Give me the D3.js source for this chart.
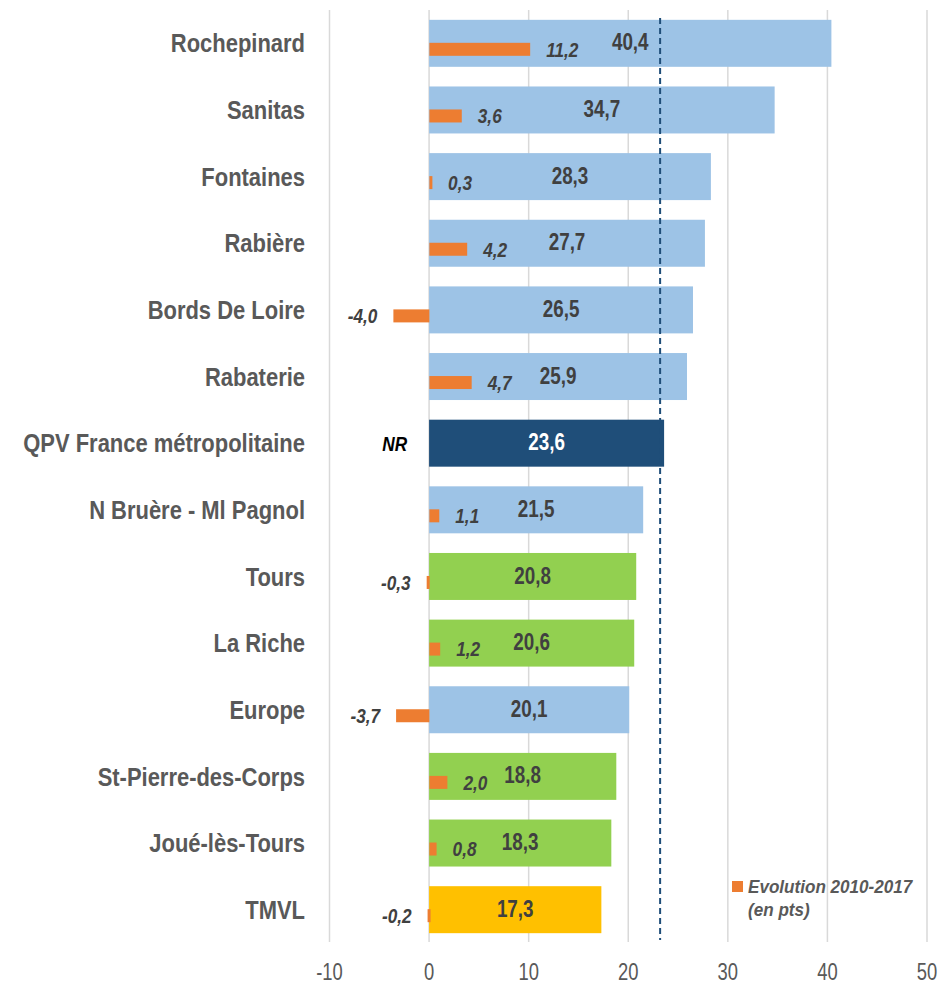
<!DOCTYPE html>
<html>
<head>
<meta charset="utf-8">
<script src="https://cdn.jsdelivr.net/npm/d3@7"></script>
<style>
  body { margin: 0; background: #fff; }
  svg text { font-family: "Liberation Sans", Arial, sans-serif; }
  .grid line { stroke: #d9d9d9; stroke-width: 1.5px; }
  .cat { font-size: 26px; font-weight: bold; fill: #595959; }
  .tick-label { font-size: 23px; fill: #595959; }
  .value { font-size: 23px; font-weight: bold; fill: #404040; }
  .evo { font-size: 21px; font-weight: bold; font-style: italic; fill: #404040; }
  .legend { font-size: 19px; font-weight: bold; font-style: italic; fill: #595959; }
</style>
</head>
<body>
<div id="wrapper"></div>
<script>
async function drawChart() {

  // 1. Data

  const categories = [
    "Rochepinard", "Sanitas", "Fontaines", "Rabière", "Bords De Loire",
    "Rabaterie", "QPV France métropolitaine", "N Bruère - Ml Pagnol",
    "Tours", "La Riche", "Europe", "St-Pierre-des-Corps", "Joué-lès-Tours", "TMVL"
  ]
  const rates = [40.4, 34.7, 28.3, 27.7, 26.5, 25.9, 23.6, 21.5, 20.8, 20.6, 20.1, 18.8, 18.3, 17.3]
  const evolutions = [11.2, 3.6, 0.3, 4.2, -4.0, 4.7, null, 1.1, -0.3, 1.2, -3.7, 2.0, 0.8, -0.2]
  const groups = ["qpv", "qpv", "qpv", "qpv", "qpv", "qpv", "france", "qpv",
                  "commune", "commune", "qpv", "commune", "commune", "tmvl"]
  const xTicks = [-10, 0, 10, 20, 30, 40, 50]
  const referenceValue = 23.2
  const legendLabel = ["Evolution 2010-2017", "(en pts)"]

  const colorByGroup = {
    qpv: "#9dc3e6",
    france: "#1f4e79",
    commune: "#92d050",
    tmvl: "#ffc000",
  }
  const evoColor = "#ed7d31"
  const fmt = v => d3.format(".1f")(v).replace(".", ",").replace("\u2212", "-")

  const rows = categories.map((name, i) => ({
    name, rate: rates[i], evo: evolutions[i], group: groups[i]
  }))

  // narrow look: squeeze text horizontally around its anchor
  const place = (sel, x, y, s) => sel
      .attr("transform", (d, i) => `translate(${x(d, i)},${y(d, i)}) scale(${s},1)`)

  // 2. Dimensions

  const dimensions = {
    width: 939,
    height: 984,
    margin: { top: 10, right: 12, bottom: 42, left: 329.5 },
  }

  // 3. Canvas

  const svg = d3.select("#wrapper").append("svg")
      .attr("width", dimensions.width)
      .attr("height", dimensions.height)

  const bounds = svg.append("g")
      .attr("transform", `translate(${dimensions.margin.left},${dimensions.margin.top})`)

  // 4. Scales

  const xScale = d3.scaleLinear()
      .domain([-10, 50])
      .range([0, 597.5])

  // secondary axis of the evolution series (slightly tighter than the main one)
  const evoScale = d3.scaleLinear()
      .domain([-11.1, 55.3])
      .range([0, 597.5])

  const yScale = d3.scaleBand()
      .domain(categories)
      .range([0, 933])
      .paddingInner(0.295)
      .paddingOuter(0.1475)

  // 5. Gridlines + axis labels

  bounds.append("g").attr("class", "grid")
    .selectAll("line")
    .data(xTicks)
    .join("line")
      .attr("x1", d => xScale(d))
      .attr("x2", d => xScale(d))
      .attr("y1", 0)
      .attr("y2", 932)

  bounds.append("g")
    .selectAll("text")
    .data(xTicks)
    .join("text")
      .attr("class", "tick-label")
      .attr("text-anchor", "middle")
      .call(place, d => xScale(d), () => 970, 0.8)
      .text(d => d)

  // 6. Bars

  const bh = yScale.bandwidth()
  const mid = d => yScale(d.name) + bh / 2

  bounds.selectAll(".rate-bar")
    .data(rows)
    .join("rect")
      .attr("class", "rate-bar")
      .attr("x", xScale(0))
      .attr("y", d => yScale(d.name))
      .attr("width", d => xScale(d.rate) - xScale(0))
      .attr("height", bh)
      .attr("fill", d => colorByGroup[d.group])

  const evoH = 13
  const evoMid = d => mid(d) + 6

  bounds.selectAll(".evo-bar")
    .data(rows.filter(d => d.evo !== null))
    .join("rect")
      .attr("class", "evo-bar")
      .attr("x", d => d.evo < 0 ? evoScale(d.evo) : evoScale(0))
      .attr("y", d => evoMid(d) - evoH / 2)
      .attr("width", d => Math.max(3, Math.abs(evoScale(d.evo) - evoScale(0))))
      .attr("height", evoH)
      .attr("fill", evoColor)

  // reference line
  bounds.append("line")
      .attr("x1", xScale(referenceValue))
      .attr("x2", xScale(referenceValue))
      .attr("y1", 8)
      .attr("y2", 930)
      .attr("stroke", "#1f4e79")
      .attr("stroke-width", 2)
      .attr("stroke-dasharray", "6 4")

  // 7. Labels

  bounds.selectAll(".value")
    .data(rows)
    .join("text")
      .attr("class", "value")
      .attr("dy", "0.35em")
      .attr("text-anchor", "middle")
      .call(place, d => (xScale(0) + xScale(d.rate)) / 2, d => mid(d) - 1, 0.82)
      .style("fill", d => d.group == "france" ? "#fff" : null)
      .text(d => fmt(d.rate))

  bounds.selectAll(".evo")
    .data(rows)
    .join("text")
      .attr("class", "evo")
      .attr("dy", "0.35em")
      .attr("text-anchor", d => d.evo > 0 ? "start" : "end")
      .call(place,
        d => d.evo === null ? xScale(0) - 22
          : d.evo > 0 ? evoScale(d.evo) + 16 : evoScale(d.evo) - 16,
        d => d.evo === null ? mid(d) : evoMid(d),
        0.82)
      .style("fill", d => d.evo === null ? "#000" : null)
      .text(d => d.evo === null ? "NR" : fmt(d.evo))

  svg.append("g")
    .selectAll("text")
    .data(rows)
    .join("text")
      .attr("class", "cat")
      .attr("dy", "0.35em")
      .attr("text-anchor", "end")
      .call(place, () => 305, d => dimensions.margin.top + mid(d), 0.845)
      .text(d => d.name)

  // 8. Legend

  const legend = svg.append("g")
      .attr("transform", "translate(732, 881)")

  legend.append("rect")
      .attr("width", 11)
      .attr("height", 11)
      .attr("fill", evoColor)

  legend.selectAll("text")
    .data(legendLabel)
    .join("text")
      .attr("class", "legend")
      .call(place, () => 16, (d, i) => 12 + i * 23, 0.9)
      .text(d => d)
}
drawChart()
</script>
</body>
</html>
